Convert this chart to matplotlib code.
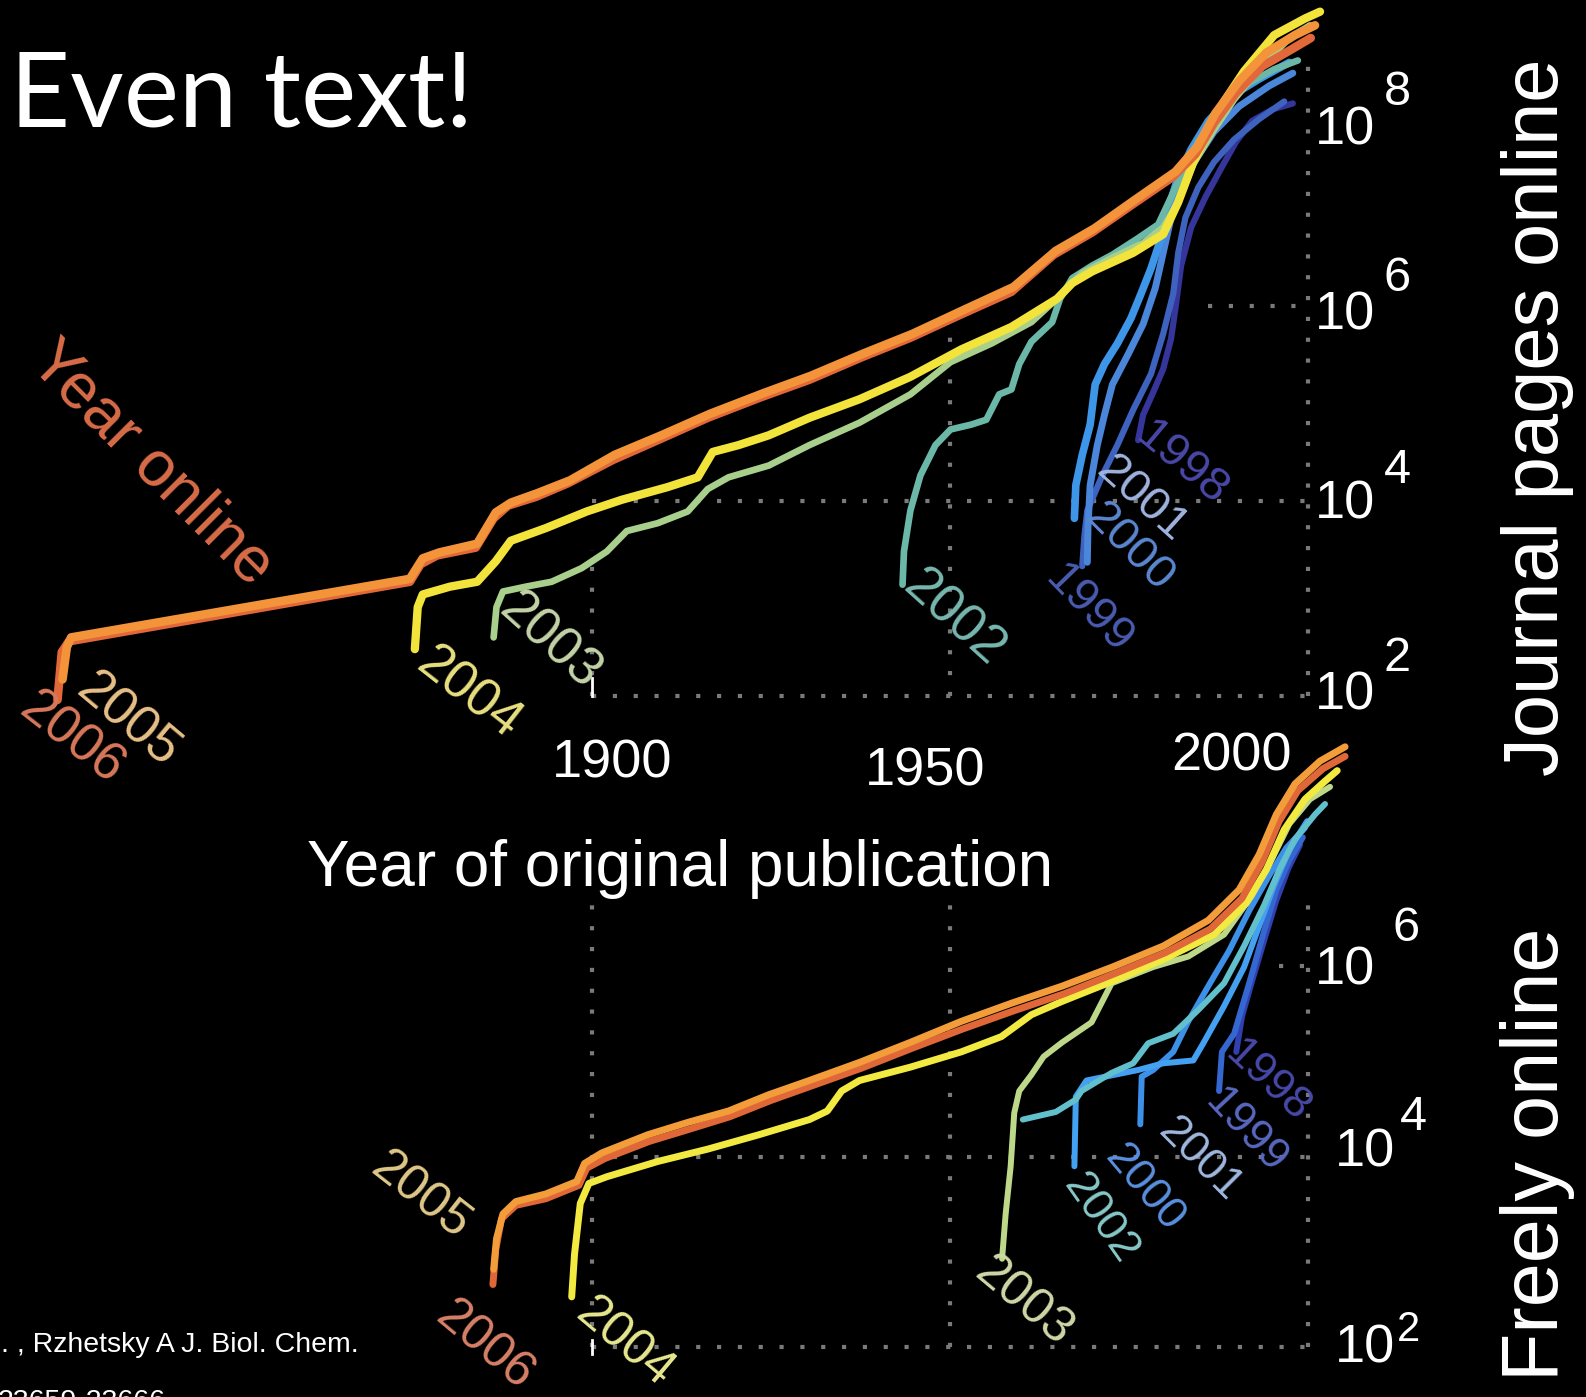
import matplotlib
matplotlib.use("Agg")
import matplotlib.pyplot as plt
import numpy as np

plt.rcParams["font.family"] = ["Liberation Sans", "DejaVu Sans"]

# ── Data: year of original publication vs log10(pages online) ──
# top panel: journal pages online, one curve per "year online"
top_2006_yr = [1825.4, 1826.0, 1827.0, 1874.6, 1876.1, 1878.4, 1883.8, 1886.3, 1888.3, 1892.2,
               1896.7, 1903.0, 1909.5, 1916.2, 1923.6, 1930.4, 1937.7, 1944.5, 1951.6, 1958.6,
               1964.5, 1969.9, 1975.6, 1981.2, 1984.3, 1986.9, 1990.0, 1993.6, 1997.4, 2000.4]
top_2006_lp = [1.96, 2.45, 2.56, 3.17, 3.35, 3.44, 3.52, 3.82, 3.95, 4.04,
               4.18, 4.42, 4.63, 4.85, 5.06, 5.24, 5.47, 5.67, 5.91, 6.14,
               6.52, 6.75, 7.04, 7.32, 7.55, 7.87, 8.18, 8.45, 8.61, 8.74]
top_2005_yr = [1826.1, 1826.7, 1827.3, 1874.6, 1876.4, 1878.7, 1884.0, 1886.6, 1888.7, 1892.5,
               1897.0, 1903.2, 1909.7, 1916.5, 1923.9, 1930.6, 1938.0, 1944.8, 1951.8, 1958.9,
               1964.8, 1970.2, 1975.8, 1981.5, 1984.6, 1987.1, 1990.4, 1994.2, 1998.2, 2001.0]
top_2005_lp = [2.17, 2.50, 2.60, 3.20, 3.41, 3.47, 3.56, 3.88, 3.98, 4.08,
               4.21, 4.47, 4.67, 4.89, 5.10, 5.28, 5.51, 5.71, 5.95, 6.19,
               6.56, 6.79, 7.08, 7.37, 7.63, 7.97, 8.30, 8.59, 8.77, 8.87]
top_2004_yr = [1875.3, 1875.7, 1876.4, 1880.2, 1884.0, 1886.6, 1888.7, 1893.6, 1899.3, 1904.2,
               1910.6, 1914.8, 1916.9, 1920.5, 1924.7, 1930.4, 1937.4, 1944.5, 1951.6, 1958.6,
               1965.0, 1967.1, 1969.9, 1975.6, 1979.8, 1981.9, 1984.0, 1986.1, 1988.3, 1991.1,
               1995.3, 1999.6, 2001.7]
top_2004_lp = [2.48, 2.91, 3.04, 3.12, 3.17, 3.38, 3.59, 3.72, 3.89, 4.01,
               4.14, 4.24, 4.50, 4.57, 4.67, 4.85, 5.04, 5.27, 5.55, 5.78,
               6.07, 6.23, 6.35, 6.54, 6.73, 7.06, 7.47, 7.78, 8.09, 8.40,
               8.77, 8.94, 9.01]
top_2003_yr = [1886.3, 1886.7, 1887.6, 1890.8, 1894.4, 1898.6, 1902.1, 1904.9, 1909.2, 1913.4,
               1916.2, 1919.1, 1924.7, 1930.4, 1937.4, 1944.5, 1950.1, 1955.8, 1961.4, 1965.7,
               1968.5, 1972.7, 1977.0, 1979.8, 1981.9, 1984.0, 1986.9, 1989.7, 1993.2, 1997.4,
               2000.3]
top_2003_lp = [2.60, 2.91, 3.07, 3.12, 3.17, 3.31, 3.48, 3.69, 3.77, 3.89,
               4.12, 4.24, 4.36, 4.57, 4.80, 5.09, 5.42, 5.61, 5.83, 6.12,
               6.33, 6.49, 6.64, 6.80, 7.06, 7.45, 7.80, 8.11, 8.42, 8.74,
               8.87]
top_2002_yr = [1943.4, 1943.6, 1944.5, 1945.9, 1948.0, 1950.1, 1953.0, 1955.1, 1956.9, 1958.6,
               1959.7, 1961.4, 1964.3, 1965.4, 1967.1, 1969.9, 1972.7, 1976.3, 1979.1, 1980.9,
               1982.6, 1984.7, 1987.6, 1991.1, 1995.3, 1998.6]
top_2002_lp = [3.14, 3.48, 3.90, 4.26, 4.57, 4.73, 4.78, 4.83, 5.09, 5.14,
               5.40, 5.63, 5.83, 6.07, 6.28, 6.41, 6.52, 6.69, 6.83, 7.11,
               7.39, 7.68, 7.97, 8.25, 8.42, 8.51]
top_2001_yr = [1967.4, 1967.6, 1968.5, 1969.6, 1970.3, 1971.6, 1973.4, 1975.3, 1976.7, 1978.1,
               1979.5, 1980.6, 1981.9, 1983.7, 1986.1, 1989.4, 1993.2, 1997.4]
top_2001_lp = [3.82, 4.16, 4.47, 4.78, 5.19, 5.40, 5.61, 5.87, 6.12, 6.38,
               6.69, 7.01, 7.32, 7.60, 7.89, 8.15, 8.32, 8.49]
top_2000_yr = [1969.2, 1969.3, 1969.6, 1970.6, 1971.6, 1972.7, 1974.9, 1977.0, 1978.7, 1979.8,
               1980.9, 1982.3, 1984.3, 1986.9, 1990.4, 1994.6, 1997.9]
top_2000_lp = [3.37, 3.74, 4.16, 4.57, 4.88, 5.19, 5.50, 5.81, 6.18, 6.54,
               6.90, 7.21, 7.49, 7.78, 8.04, 8.25, 8.38]
top_1999_yr = [1968.5, 1968.8, 1969.2, 1971.3, 1973.4, 1975.6, 1978.1, 1979.8, 1981.2, 1981.9,
               1982.9, 1984.7, 1986.9, 1989.7, 1993.2, 1996.7]
top_1999_lp = [3.33, 3.64, 3.90, 4.26, 4.57, 4.93, 5.30, 5.71, 6.12, 6.54,
               6.90, 7.21, 7.47, 7.70, 7.91, 8.09]
top_1998_yr = [1976.3, 1977.0, 1978.4, 1979.8, 1980.9, 1981.6, 1982.3, 1983.7, 1985.7, 1988.0,
               1990.0, 1992.2, 1995.1, 1997.9]
top_1998_lp = [4.62, 4.88, 5.11, 5.35, 5.66, 6.02, 6.41, 6.80, 7.11, 7.42,
               7.68, 7.89, 8.01, 8.07]

# bottom panel: freely online
bot_2005_yr = [1886.3, 1886.7, 1887.6, 1889.4, 1893.6, 1897.9, 1899.0, 1901.4, 1907.8, 1913.4,
               1919.1, 1924.7, 1930.4, 1937.4, 1944.5, 1951.6, 1958.6, 1965.7, 1972.7, 1979.8,
               1986.1, 1990.4, 1993.2, 1995.6, 1998.2, 2001.7, 2005.2]
bot_2005_lp = [2.82, 3.14, 3.40, 3.53, 3.61, 3.74, 3.93, 4.04, 4.23, 4.36,
               4.48, 4.65, 4.80, 4.99, 5.20, 5.42, 5.61, 5.79, 5.99, 6.21,
               6.48, 6.80, 7.17, 7.59, 7.91, 8.15, 8.30]
bot_2006_yr = [1886.2, 1886.6, 1887.4, 1889.4, 1893.6, 1898.2, 1899.3, 1901.8, 1908.0, 1913.7,
               1919.3, 1925.0, 1930.6, 1937.7, 1944.8, 1951.8, 1958.9, 1966.0, 1973.0, 1980.1,
               1986.4, 1990.8, 1993.6, 1996.0, 1998.6, 2002.1, 2005.2]
bot_2006_lp = [2.66, 3.03, 3.35, 3.49, 3.56, 3.70, 3.88, 3.98, 4.16, 4.29,
               4.42, 4.59, 4.74, 4.93, 5.14, 5.34, 5.53, 5.71, 5.92, 6.14,
               6.39, 6.71, 7.09, 7.52, 7.84, 8.07, 8.20]
bot_2004_yr = [1897.2, 1897.6, 1898.4, 1899.6, 1902.1, 1909.2, 1916.2, 1923.3, 1930.4, 1932.9,
               1934.9, 1937.4, 1944.5, 1951.6, 1957.2, 1961.4, 1965.7, 1972.7, 1979.8, 1986.9,
               1991.4, 1994.2, 1996.7, 1999.6, 2002.4, 2004.1]
bot_2004_lp = [2.53, 2.98, 3.51, 3.72, 3.79, 3.95, 4.08, 4.23, 4.39, 4.48,
               4.69, 4.80, 4.94, 5.10, 5.26, 5.49, 5.63, 5.84, 6.07, 6.33,
               6.66, 7.01, 7.43, 7.75, 7.94, 8.05]
bot_2003_yr = [1957.3, 1957.8, 1958.5, 1959.0, 1959.7, 1961.4, 1963.1, 1965.7, 1969.8, 1972.6,
               1978.4, 1983.3, 1988.3, 1992.2, 1995.1, 1997.4, 2000.3, 2003.1]
bot_2003_lp = [2.93, 3.40, 3.90, 4.46, 4.69, 4.86, 5.05, 5.20, 5.41, 5.82,
               5.99, 6.10, 6.33, 6.74, 7.14, 7.49, 7.75, 7.88]
bot_2002_yr = [1960.2, 1964.8, 1967.6, 1968.4, 1972.6, 1975.6, 1977.7, 1981.2, 1984.7, 1988.3,
               1991.1, 1993.9, 1996.0, 1998.2, 2001.0, 2002.4]
bot_2002_lp = [4.39, 4.47, 4.60, 4.69, 4.88, 4.98, 5.19, 5.29, 5.54, 5.82,
               6.21, 6.64, 7.01, 7.33, 7.59, 7.70]
bot_2001_yr = [1976.6, 1976.8, 1978.4, 1981.2, 1983.3, 1986.1, 1989.0, 1991.8, 1994.6, 1997.0, 1999.6]
bot_2001_lp = [4.34, 4.84, 4.91, 5.10, 5.42, 5.79, 6.16, 6.58, 6.95, 7.24, 7.45]
bot_2000_yr = [1967.4, 1967.6, 1969.1, 1976.3, 1979.8, 1984.0, 1985.4, 1988.3, 1991.1, 1993.2,
               1995.3, 1997.4, 1999.9]
bot_2000_lp = [3.90, 4.63, 4.80, 4.91, 4.98, 5.01, 5.19, 5.58, 5.99, 6.42,
               6.85, 7.22, 7.52]
bot_1999_yr = [1987.6, 1988.0, 1989.7, 1991.8, 1993.9, 1995.6, 1997.4, 1999.3]
bot_1999_lp = [4.69, 5.10, 5.29, 5.82, 6.37, 6.80, 7.11, 7.35]
bot_1998_yr = [1990.0, 1990.8, 1992.2, 1993.9, 1995.6, 1997.3, 1998.9]
bot_1998_lp = [5.10, 5.47, 5.84, 6.27, 6.69, 7.03, 7.27]

x_ticks = [1900, 1950, 2000]
y_ticks = [2, 4, 6, 8]

# ── Colours (jet-like on black) ──
COL = {
    "2006": "#e2683a", "2005": "#f3943a", "2004": "#f3e43c", "2003": "#a9cf8c",
    "2002": "#6bb8a8", "2001": "#3e96e8", "2000": "#4a86da", "1999": "#3e63be",
    "1998": "#35359c",
}
BCOL = {
    "2006": "#e06838", "2005": "#f29c3a", "2004": "#f2ea40", "2003": "#bcd888",
    "2002": "#62c0cc", "2001": "#3c90e8", "2000": "#44a0f0", "1999": "#3468d0",
    "1998": "#3040b0",
}
GRID = "#7a7a7a"
DOTS = (0, (1, 4))

fig = plt.figure(figsize=(15.86, 13.97), dpi=100, facecolor="black")

# both panels share the full canvas; limits put each panel where it sits
ax_top = fig.add_axes([0, 0, 1, 1])
ax_bot = fig.add_axes([0, 0, 1, 1])
for ax in (ax_top, ax_bot):
    ax.set_facecolor("none")
    ax.set_yscale("log")
    ax.set_xlim(1817.37, 2038.84)
    ax.axis("off")
ax_top.set_ylim(10 ** -5.181, 10 ** 9.1295)
ax_bot.set_ylim(10 ** 1.480, 10 ** 16.133)

# ═════════ TOP PANEL — journal pages online ═════════
# dotted grid (back wall of the original 3-D box)
ax_top.plot([1900, 2000], [1e2, 1e2], color=GRID, lw=3, ls=DOTS)
ax_top.plot([1900, 2000], [1e4, 1e4], color=GRID, lw=3, ls=DOTS)
ax_top.plot([1986, 2000], [1e6, 1e6], color=GRID, lw=3, ls=DOTS)
ax_top.plot([1900, 1900], [1e2, 10 ** 3.5], color=GRID, lw=3, ls=DOTS)
ax_top.plot([1950, 1950], [1e2, 1e6], color=GRID, lw=3, ls=DOTS)
ax_top.plot([2000, 2000], [1e2, 10 ** 8.5], color=GRID, lw=3, ls=DOTS)
ax_top.plot([1900, 1900], [1e2, 10 ** 2.18], color="white", lw=2)

top_curves = [
    ("1998", top_1998_yr, top_1998_lp, 4.5),
    ("1999", top_1999_yr, top_1999_lp, 4.5),
    ("2000", top_2000_yr, top_2000_lp, 5.0),
    ("2001", top_2001_yr, top_2001_lp, 5.5),
    ("2002", top_2002_yr, top_2002_lp, 4.8),
    ("2003", top_2003_yr, top_2003_lp, 4.8),
    ("2004", top_2004_yr, top_2004_lp, 6.0),
    ("2006", top_2006_yr, top_2006_lp, 6.2),
    ("2005", top_2005_yr, top_2005_lp, 6.2),
]
for name, yr, lp, lw in top_curves:
    ax_top.plot(yr, 10 ** np.array(lp), color=COL[name], lw=lw,
                solid_capstyle="round", solid_joinstyle="round")

# rotated "year online" labels at the foot of each curve
top_labels = [
    ("Year online", 1822.9, 5.53, -45, "#d86c48", 46),
    ("2005", 1828.9, 2.13, -40, "#e8c088", 38),
    ("2006", 1820.9, 1.93, -38, "#d8785a", 38),
    ("2004", 1876.4, 2.39, -38, "#e8e080", 38),
    ("2003", 1888.0, 2.96, -42, "#c4d4a8", 38),
    ("2002", 1944.5, 3.20, -42, "#78b8b0", 38),
    ("1998", 1976.7, 4.73, -40, "#4a48a8", 34),
    ("2001", 1971.3, 4.38, -42, "#a0b4e0", 34),
    ("2000", 1969.9, 3.90, -45, "#5a88d0", 34),
    ("1999", 1964.3, 3.27, -46, "#4a5cb0", 34),
]
for txt, x, lg, ang, c, fs in top_labels:
    ax_top.text(x, 10 ** lg, txt, rotation=ang, rotation_mode="anchor",
                ha="left", va="center", color=c, fontsize=fs)

# x tick labels (perspective-shifted in the original)
for lab, x, lg in zip(x_ticks, [1902.8, 1946.6, 1989.4], [1.17, 1.08, 1.24]):
    ax_top.text(x, 10 ** lg, str(lab), ha="center", va="baseline",
                color="white", fontsize=39)

# y tick labels 10^n
for n, lg, elg in zip(y_ticks, [2.00, 3.96, 5.90, 7.79], [2.38, 4.31, 6.28, 8.18]):
    ax_top.text(2001.0, 10 ** lg, "10", ha="left", va="center", color="white", fontsize=39)
    ax_top.text(2012.5, 10 ** elg, str(n), ha="center", va="center", color="white", fontsize=35)

# ═════════ BOTTOM PANEL — freely online ═════════
ax_bot.plot([1900, 2000], [1e2, 1e2], color=GRID, lw=3, ls=DOTS)
ax_bot.plot([1900, 2000], [1e4, 1e4], color=GRID, lw=3, ls=DOTS)
ax_bot.plot([1996, 2000], [1e6, 1e6], color=GRID, lw=3, ls=DOTS)
ax_bot.plot([1900, 1900], [1e2, 10 ** 6.8], color=GRID, lw=3, ls=DOTS)
ax_bot.plot([1950, 1950], [1e2, 10 ** 6.8], color=GRID, lw=3, ls=DOTS)
ax_bot.plot([2000, 2000], [1e2, 10 ** 6.8], color=GRID, lw=3, ls=DOTS)
ax_bot.plot([1900, 1900], [10 ** 1.93, 10 ** 2.08], color="white", lw=2)

bot_curves = [
    ("1998", bot_1998_yr, bot_1998_lp, 4.3),
    ("1999", bot_1999_yr, bot_1999_lp, 4.3),
    ("2001", bot_2001_yr, bot_2001_lp, 4.3),
    ("2000", bot_2000_yr, bot_2000_lp, 4.3),
    ("2002", bot_2002_yr, bot_2002_lp, 4.3),
    ("2003", bot_2003_yr, bot_2003_lp, 4.3),
    ("2004", bot_2004_yr, bot_2004_lp, 5.0),
    ("2006", bot_2006_yr, bot_2006_lp, 5.0),
    ("2005", bot_2005_yr, bot_2005_lp, 5.0),
]
for name, yr, lp, lw in bot_curves:
    ax_bot.plot(yr, 10 ** np.array(lp), color=BCOL[name], lw=lw,
                solid_capstyle="round", solid_joinstyle="round")

bot_labels = [
    ("2005", 1869.9, 3.95, -38, "#e0c888", 36),
    ("2006", 1879.1, 2.39, -40, "#d88068", 36),
    ("2004", 1898.6, 2.42, -40, "#e8e890", 36),
    ("2003", 1954.4, 2.85, -40, "#d0d8a8", 36),
    ("2002", 1967.1, 3.77, -55, "#88c8c8", 32),
    ("2000", 1972.7, 4.06, -50, "#5a90e0", 32),
    ("2001", 1980.1, 4.33, -45, "#a0b8e0", 32),
    ("1999", 1986.6, 4.65, -47, "#5868c0", 32),
    ("1998", 1989.4, 5.15, -43, "#4848a8", 32),
]
for txt, x, lg, ang, c, fs in bot_labels:
    ax_bot.text(x, 10 ** lg, txt, rotation=ang, rotation_mode="anchor",
                ha="left", va="center", color=c, fontsize=fs)

for n, x, lg, ex, elg, efs in [(2, 2003.8, 1.99, 2014.1, 2.18, 30),
                               (4, 2003.8, 4.04, 2014.8, 4.41, 35),
                               (6, 2001.0, 5.95, 2013.7, 6.39, 35)]:
    ax_bot.text(x, 10 ** lg, "10", ha="left", va="center", color="white", fontsize=39)
    ax_bot.text(ex, 10 ** elg, str(n), ha="center", va="center", color="white", fontsize=efs)

# ── Titles and side labels ──
W, H = 1568.0, 1381.0
fig.text(10 / W, 1 - 125 / H, "Even text!", color="white", fontsize=75,
         family="Lato", ha="left", va="baseline")
fig.text(672 / W, 1 - 876 / H, "Year of original publication", color="white",
         fontsize=46, ha="center", va="baseline")
fig.text(1520 / W, 1 - 412 / H, "Journal pages online", color="white",
         fontsize=56, rotation=90, ha="center", va="center")
fig.text(1520 / W, 1 - 1141 / H, "Freely online", color="white",
         fontsize=57, rotation=90, ha="center", va="center")
fig.text(1 / W, 1 - 1337 / H, ". , Rzhetsky A J. Biol. Chem.", color="white",
         fontsize=20.5, ha="left", va="baseline")
fig.text(-2 / W, 1 - 1373 / H, "23659-23666", color="white",
         fontsize=20.5, ha="left", va="top")

fig.savefig("out.png", dpi=100, facecolor="black")
